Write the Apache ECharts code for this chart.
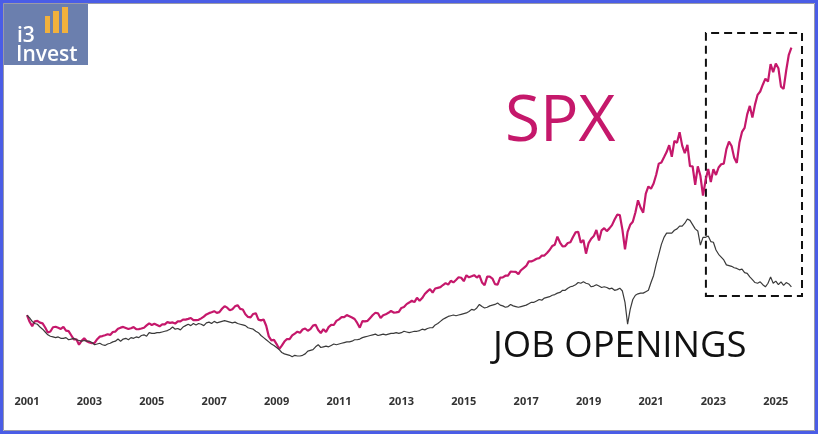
<!DOCTYPE html>
<html>
<head>
<meta charset="utf-8">
<script src="https://cdn.jsdelivr.net/npm/echarts@6/dist/echarts.min.js"></script>
<style>
html,body{margin:0;padding:0;background:#fff;}
#c{width:818px;height:434px;}
</style>
</head>
<body>
<div id="c"></div>
<script>
// ---- data (monthly, starting Jan 2001) ----
const startYear = 2001;
const tickYears = [2001, 2003, 2005, 2007, 2009, 2011, 2013, 2015, 2017, 2019, 2021, 2023, 2025];

// S&P 500 monthly level
const spx = [
  1366,1240,1160,1249,1256,1224,1211,1134,1041,1060,1139,1148,
  1130,1107,1147,1077,1067,990,912,916,815,886,936,880,
  856,841,848,917,964,975,990,1008,996,1051,1058,1112,
  1131,1145,1126,1107,1121,1141,1102,1104,1115,1130,1174,1212,
  1181,1204,1181,1157,1192,1191,1234,1220,1229,1207,1249,1248,
  1280,1281,1295,1311,1270,1270,1277,1304,1336,1378,1401,1418,
  1438,1407,1421,1482,1531,1503,1455,1474,1527,1549,1481,1468,
  1379,1331,1323,1386,1400,1280,1267,1283,1166,969,896,903,
  826,735,798,873,919,919,987,1021,1057,1036,1096,1115,
  1074,1104,1169,1187,1089,1031,1102,1049,1141,1183,1181,1258,
  1286,1327,1326,1364,1345,1321,1292,1219,1131,1253,1247,1258,
  1312,1366,1408,1398,1310,1362,1379,1407,1441,1412,1416,1426,
  1498,1515,1569,1598,1631,1606,1686,1633,1682,1757,1806,1848,
  1783,1859,1872,1884,1924,1960,1931,2003,1972,2018,2068,2059,
  1995,2105,2068,2086,2107,2063,2104,1972,1920,2079,2080,2044,
  1940,1932,2060,2065,2097,2099,2174,2171,2168,2126,2199,2239,
  2279,2364,2363,2384,2412,2423,2470,2472,2519,2575,2648,2674,
  2824,2714,2641,2648,2705,2718,2816,2902,2914,2712,2760,2507,
  2704,2784,2834,2946,2752,2942,2980,2926,2977,3038,3141,3231,
  3226,2954,2585,2912,3044,3100,3271,3500,3363,3270,3622,3756,
  3714,3811,3973,4181,4204,4298,4395,4523,4308,4605,4567,4766,
  4516,4374,4530,4132,4132,3785,4130,3955,3586,3872,4080,3840,
  4077,3970,4109,4169,4180,4450,4589,4508,4288,4194,4568,4770,
  4846,5096,5254,5036,5278,5460,5522,5648,5762,5705,6032,5882,
  6041,5955,5612,5569,5912,6205,6339
];

// Job openings (thousands)
const jobOpenings = [
  5200,5000,4750,4600,4550,4350,4200,4000,3800,3700,3650,3600,
  3650,3550,3550,3600,3450,3500,3550,3450,3400,3350,3400,3350,
  3350,3250,3100,3150,3200,3100,3050,3150,3200,3300,3350,3500,
  3350,3500,3550,3450,3600,3550,3650,3600,3750,3800,3700,3950,
  3900,3900,3950,3950,4000,4050,4100,4200,4350,4200,4250,4150,
  4350,4450,4550,4450,4600,4500,4600,4550,4450,4650,4700,4600,
  4750,4650,4700,4750,4800,4750,4700,4650,4700,4600,4550,4500,
  4450,4300,4250,4200,4050,3950,3750,3600,3450,3300,3150,3050,
  2900,2750,2550,2450,2400,2350,2250,2350,2300,2300,2350,2450,
  2650,2700,2750,2950,3100,2900,2950,3000,2950,3050,3150,3100,
  3150,3200,3250,3300,3300,3350,3450,3450,3500,3600,3650,3700,
  3750,3800,3850,3750,3800,3850,3800,3850,3900,3900,3950,3900,
  3950,4050,4000,3950,4000,4050,4050,4100,4200,4150,4250,4300,
  4300,4500,4600,4750,4900,5000,5100,5150,5200,5150,5200,5250,
  5300,5350,5450,5600,5550,5700,5950,5800,5700,5750,5850,5900,
  5950,6050,5900,5850,5750,5800,5950,5850,5800,5750,5800,5850,
  5900,6000,6100,6100,6200,6300,6250,6400,6450,6500,6600,6650,
  6750,6800,6950,6950,7100,7200,7250,7350,7500,7450,7550,7450,
  7400,7200,7250,7350,7250,7150,7200,7150,7050,7100,6950,7000,
  7100,6900,6100,4550,5600,6300,6600,6700,6750,6750,6850,6950,
  7500,8000,8800,9500,10200,10700,11000,11000,11000,11200,11300,11500,
  11500,11700,12000,11900,11600,11300,11150,10150,10700,10700,10800,10400,
  10350,9800,9500,9300,9100,8750,8700,8650,8550,8500,8400,8450,
  8200,8150,7900,7700,7500,7450,7550,7350,7200,7450,7900,7450,
  7600,7350,7550,7300,7500,7400,7200
];

// highlighted window (decimal year, SPX level)
const boxX = [2022.76, 2025.84];
const boxY = [1720, 6610];

const toPoints = arr => arr.map((v, i) => [startYear + i / 12, v]);

const chart = echarts.init(document.getElementById('c'), null, {renderer: 'canvas'});
chart.setOption({
  animation: false,
  backgroundColor: '#fff',
  grid: {left: 27, right: 11, top: 12, bottom: 45.5},
  xAxis: {
    type: 'value', min: 2001, max: 2026, interval: 2,
    axisLine: {show: false}, axisTick: {show: false}, splitLine: {show: false},
    axisLabel: {
      margin: 8, showMaxLabel: false,
      color: '#333', fontFamily: 'Noto Sans', fontWeight: 'bold', fontSize: 11,
      formatter: v => tickYears.includes(v) ? String(v) : ''
    }
  },
  yAxis: [
    {type: 'value', min: 0, max: 7000, show: false, splitLine: {show: false}},
    {type: 'value', min: 0, max: 26650, show: false, splitLine: {show: false}}
  ],
  series: [
    {
      name: 'SPX', type: 'line', yAxisIndex: 0, showSymbol: false, smooth: false,
      data: toPoints(spx),
      lineStyle: {color: '#c5186b', width: 2.2},
      itemStyle: {color: '#c5186b'},
      markArea: {
        silent: true,
        itemStyle: {color: 'rgba(0,0,0,0)', borderColor: '#111', borderWidth: 2, borderType: [8, 5]},
        data: [[{xAxis: boxX[0], yAxis: boxY[0]}, {xAxis: boxX[1], yAxis: boxY[1]}]]
      }
    },
    {
      name: 'JOB OPENINGS', type: 'line', yAxisIndex: 1, showSymbol: false, smooth: false,
      data: toPoints(jobOpenings),
      lineStyle: {color: '#3a3a3a', width: 1.2},
      itemStyle: {color: '#3a3a3a'}
    }
  ],
  graphic: [
    {type: 'text', left: 505, top: 91, style: {text: 'SPX', font: '64px "Open Sans"', fill: '#c5186b'}},
    {type: 'text', left: 493, top: 328, style: {text: 'JOB OPENINGS', font: '36.5px "Open Sans"', fill: '#111'}},
    // logo
    {type: 'rect', shape: {x: 3, y: 3, width: 85, height: 62}, style: {fill: '#6b7fae'}, z: 10},
    {type: 'rect', shape: {x: 45, y: 16, width: 5, height: 17}, style: {fill: '#f2b13c'}, z: 11},
    {type: 'rect', shape: {x: 53, y: 11, width: 6, height: 22}, style: {fill: '#f2b13c'}, z: 11},
    {type: 'rect', shape: {x: 62, y: 7, width: 6, height: 26}, style: {fill: '#f2b13c'}, z: 11},
    {type: 'text', x: 17, y: 26, style: {text: 'i3', font: '600 21px "Open Sans"', fill: '#fff'}, z: 11},
    {type: 'text', x: 16, y: 45, style: {text: 'Invest', font: '600 21px "Open Sans"', fill: '#fff'}, z: 11},
    // frame
    {type: 'rect', shape: {x: 3.5, y: 3.5, width: 811, height: 427}, style: {fill: 'none', stroke: '#9a9aa8', lineWidth: 1}, z: 20},
    {type: 'rect', shape: {x: 1.5, y: 1.5, width: 815, height: 431}, style: {fill: 'none', stroke: '#4a5de6', lineWidth: 3}, z: 21}
  ]
});
</script>
</body>
</html>
